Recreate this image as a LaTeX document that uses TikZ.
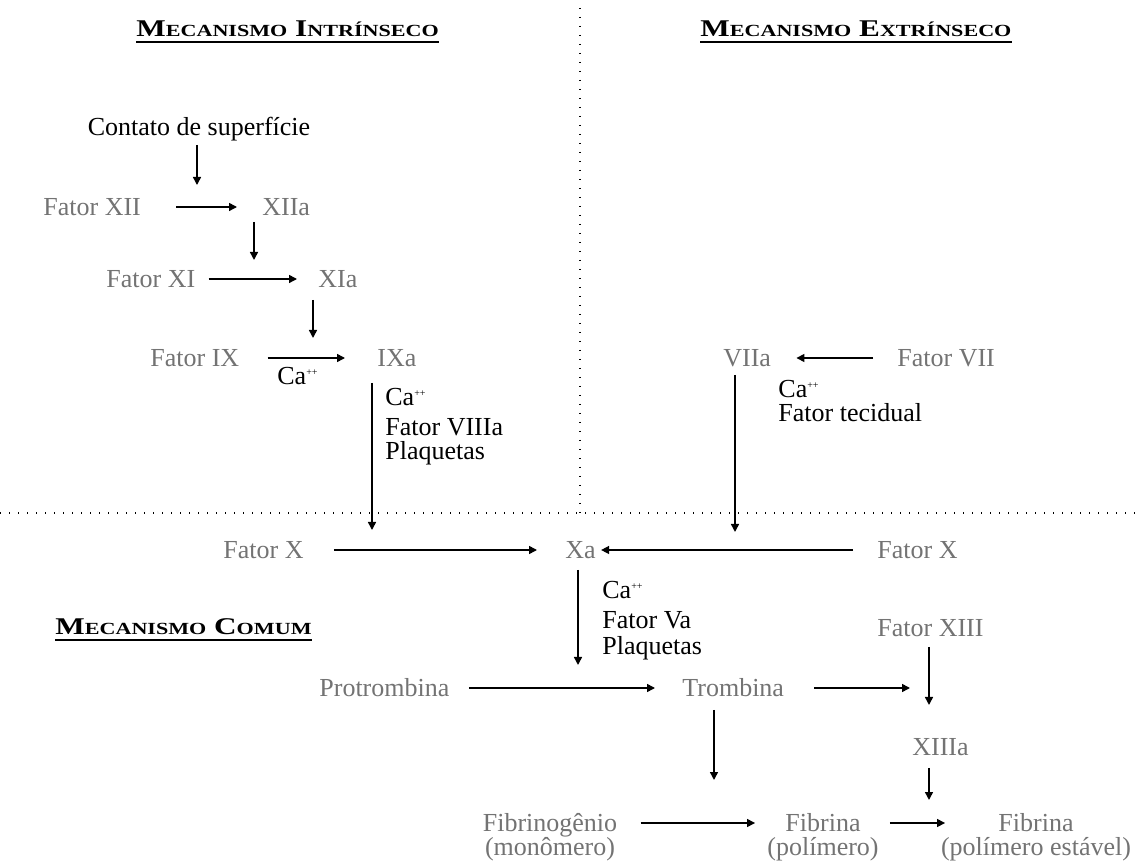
\documentclass[tikz,border=0pt]{standalone}
\usepackage{fontspec}
\setmainfont{Liberation Serif}
\usepackage{graphicx}
\usetikzlibrary{positioning,arrows.meta}
\newcommand{\caion}{Ca\textsuperscript{\tiny ++}}
\newcommand{\mecanismo}[2]{\scalebox{1.3}[1]{\bfseries\fontsize{12}{14}\selectfont
    M{\fontsize{8.5}{10}\selectfont ECANISMO} #1{\fontsize{8.5}{10}\selectfont #2}}}
\begin{document}
\begin{tikzpicture}
[x=0.5pt,y=-0.5pt,every node/.style={inner sep=0pt,font=\fontsize{13}{15}\selectfont},
  fac/.style={text=black!55,anchor=west,text height=8.6pt,text depth=0pt},
  txt/.style={anchor=west,text height=8.6pt,text depth=0pt},
  nota/.style={anchor=north west,align=left},
  titulo/.style={anchor=base west},
  sublinha/.style={line width=1.3pt},
  seta/.style={-{Triangle[length=4pt,width=4pt]},line width=0.75pt},
  sep/.style={line width=0.7pt,dash pattern=on 0.7pt off 3.8pt}]
\useasboundingbox (0,0) rectangle (1141,865);
% separadores
\draw[sep] (580,8) -- (580,513); \draw[sep] (0,513) -- (1141,513);
% titulos
\node[titulo] (h1) at (136,37) {\mecanismo{I}{NTRÍNSECO}};
\node[titulo] (h2) at (700,37) {\mecanismo{E}{XTRÍNSECO}};
\node[titulo] (h3) at (55,635) {\mecanismo{C}{OMUM}};
\foreach \h in {h1,h2,h3} \draw[sublinha] ([yshift=-2.5pt]\h.base west) --
  ([yshift=-2.5pt]\h.base east);
% mecanismo intrinseco
\node[txt,anchor=center] (contato) at (199,127) {Contato de superfície};
\node[fac] (f12) at (43,207) {Fator XII}; \node[fac] (f12a) at (262,207) {XIIa};
\node[fac] (f11) at (106,279) {Fator XI}; \node[fac] (f11a) at (318,279) {XIa};
\node[fac] (f9) at (150,358) {Fator IX}; \node[fac] (f9a) at (377,358) {IXa};
\node[txt] (ca9) at (277,376) {\caion};
\node[nota,font=\fontsize{13}{12}\selectfont] (n9) at (385,388) {\caion\\[3pt]Fator VIIIa\\Plaquetas};
% mecanismo extrinseco
\node[fac] (f7a) at (723,358) {VIIa}; \node[fac] (f7) at (897,358) {Fator VII};
\node[nota,font=\fontsize{13}{12}\selectfont] (n7) at (778,380) {\caion\\Fator tecidual};
% mecanismo comum
\node[fac] (fxl) at (223,550) {Fator X}; \node[fac] (xa) at (565,550) {Xa};
\node[fac] (fxr) at (877,550) {Fator X};
\node[nota,font=\fontsize{13}{13}\selectfont] (nx) at (602,581) {\caion\\[2pt]Fator Va\\Plaquetas};
\node[fac] (f13) at (877,628) {Fator XIII};
\node[fac] (pro) at (319,688) {Protrombina}; \node[fac] (tro) at (682,688) {Trombina};
\node[fac] (f13a) at (912,747) {XIIIa};
\node[fac,anchor=center] (fgn) at (550,823) {Fibrinogênio};
\node[fac,below=3pt of fgn] (fgn2) {(monômero)};
\node[fac,anchor=center] (fib1) at (823,823) {Fibrina};
\node[fac,below=3pt of fib1] (fib1b) {(polímero)};
\node[fac,anchor=center] (fib2) at (1036,823) {Fibrina};
\node[fac,below=3pt of fib2] (fib2b) {(polímero estável)};
% pontas das setas verticais
\coordinate (k12) at (197,185); \coordinate (k11) at (254,260);
\coordinate (k9) at (313,338); \coordinate (k10) at (372,530);
\coordinate (k7) at (735,532); \coordinate (k2) at (578,665);
\coordinate (k13) at (929,705); \coordinate (k14) at (929,800);
\coordinate (k15) at (714,780); \coordinate (k13m) at (910,688);
% setas
\path (f12) edge[seta,shorten <=17.5pt,shorten >=12.5pt] (f12a);
\path (f11) edge[seta,shorten <=6.5pt,shorten >=10.5pt] (f11a);
\path (f9) edge[seta,shorten <=14pt,shorten >=16pt] (f9a);
\path (f7) edge[seta,shorten <=12pt,shorten >=12.5pt] (f7a);
\path (fxl) edge[seta,shorten <=15pt,shorten >=14pt] (xa);
\path (fxr) edge[seta,shorten <=12pt,shorten >=2.5pt] (xa);
\path (pro) edge[seta,shorten <=9.5pt,shorten >=13.5pt] (tro);
\path (fgn) edge[seta,shorten <=11.5pt,shorten >=15pt] (fib1);
\path (fib1) edge[seta,shorten <=14.5pt,shorten >=26.5pt] (fib2);
\draw[seta,shorten <=15pt] (tro) -- (k13m);
\draw[seta,shorten <=4.5pt] (contato.south -| k12) -- (k12);
\draw[seta,shorten <=3pt] (f12a.south -| k11) -- (k11);
\draw[seta,shorten <=6pt] (f11a.south -| k9) -- (k9);
\draw[seta,shorten <=8pt] (f9a.south -| k10) -- (k10);
\draw[seta,shorten <=4pt] (f7a.south -| k7) -- (k7);
\draw[seta,shorten <=5.5pt] (xa.south -| k2) -- (k2);
\draw[seta,shorten <=5pt] (f13.south -| k13) -- (k13);
\draw[seta,shorten <=6pt] (f13a.south -| k14) -- (k14);
\draw[seta,shorten <=6.5pt] (tro.south -| k15) -- (k15);
\end{tikzpicture}
\end{document}
